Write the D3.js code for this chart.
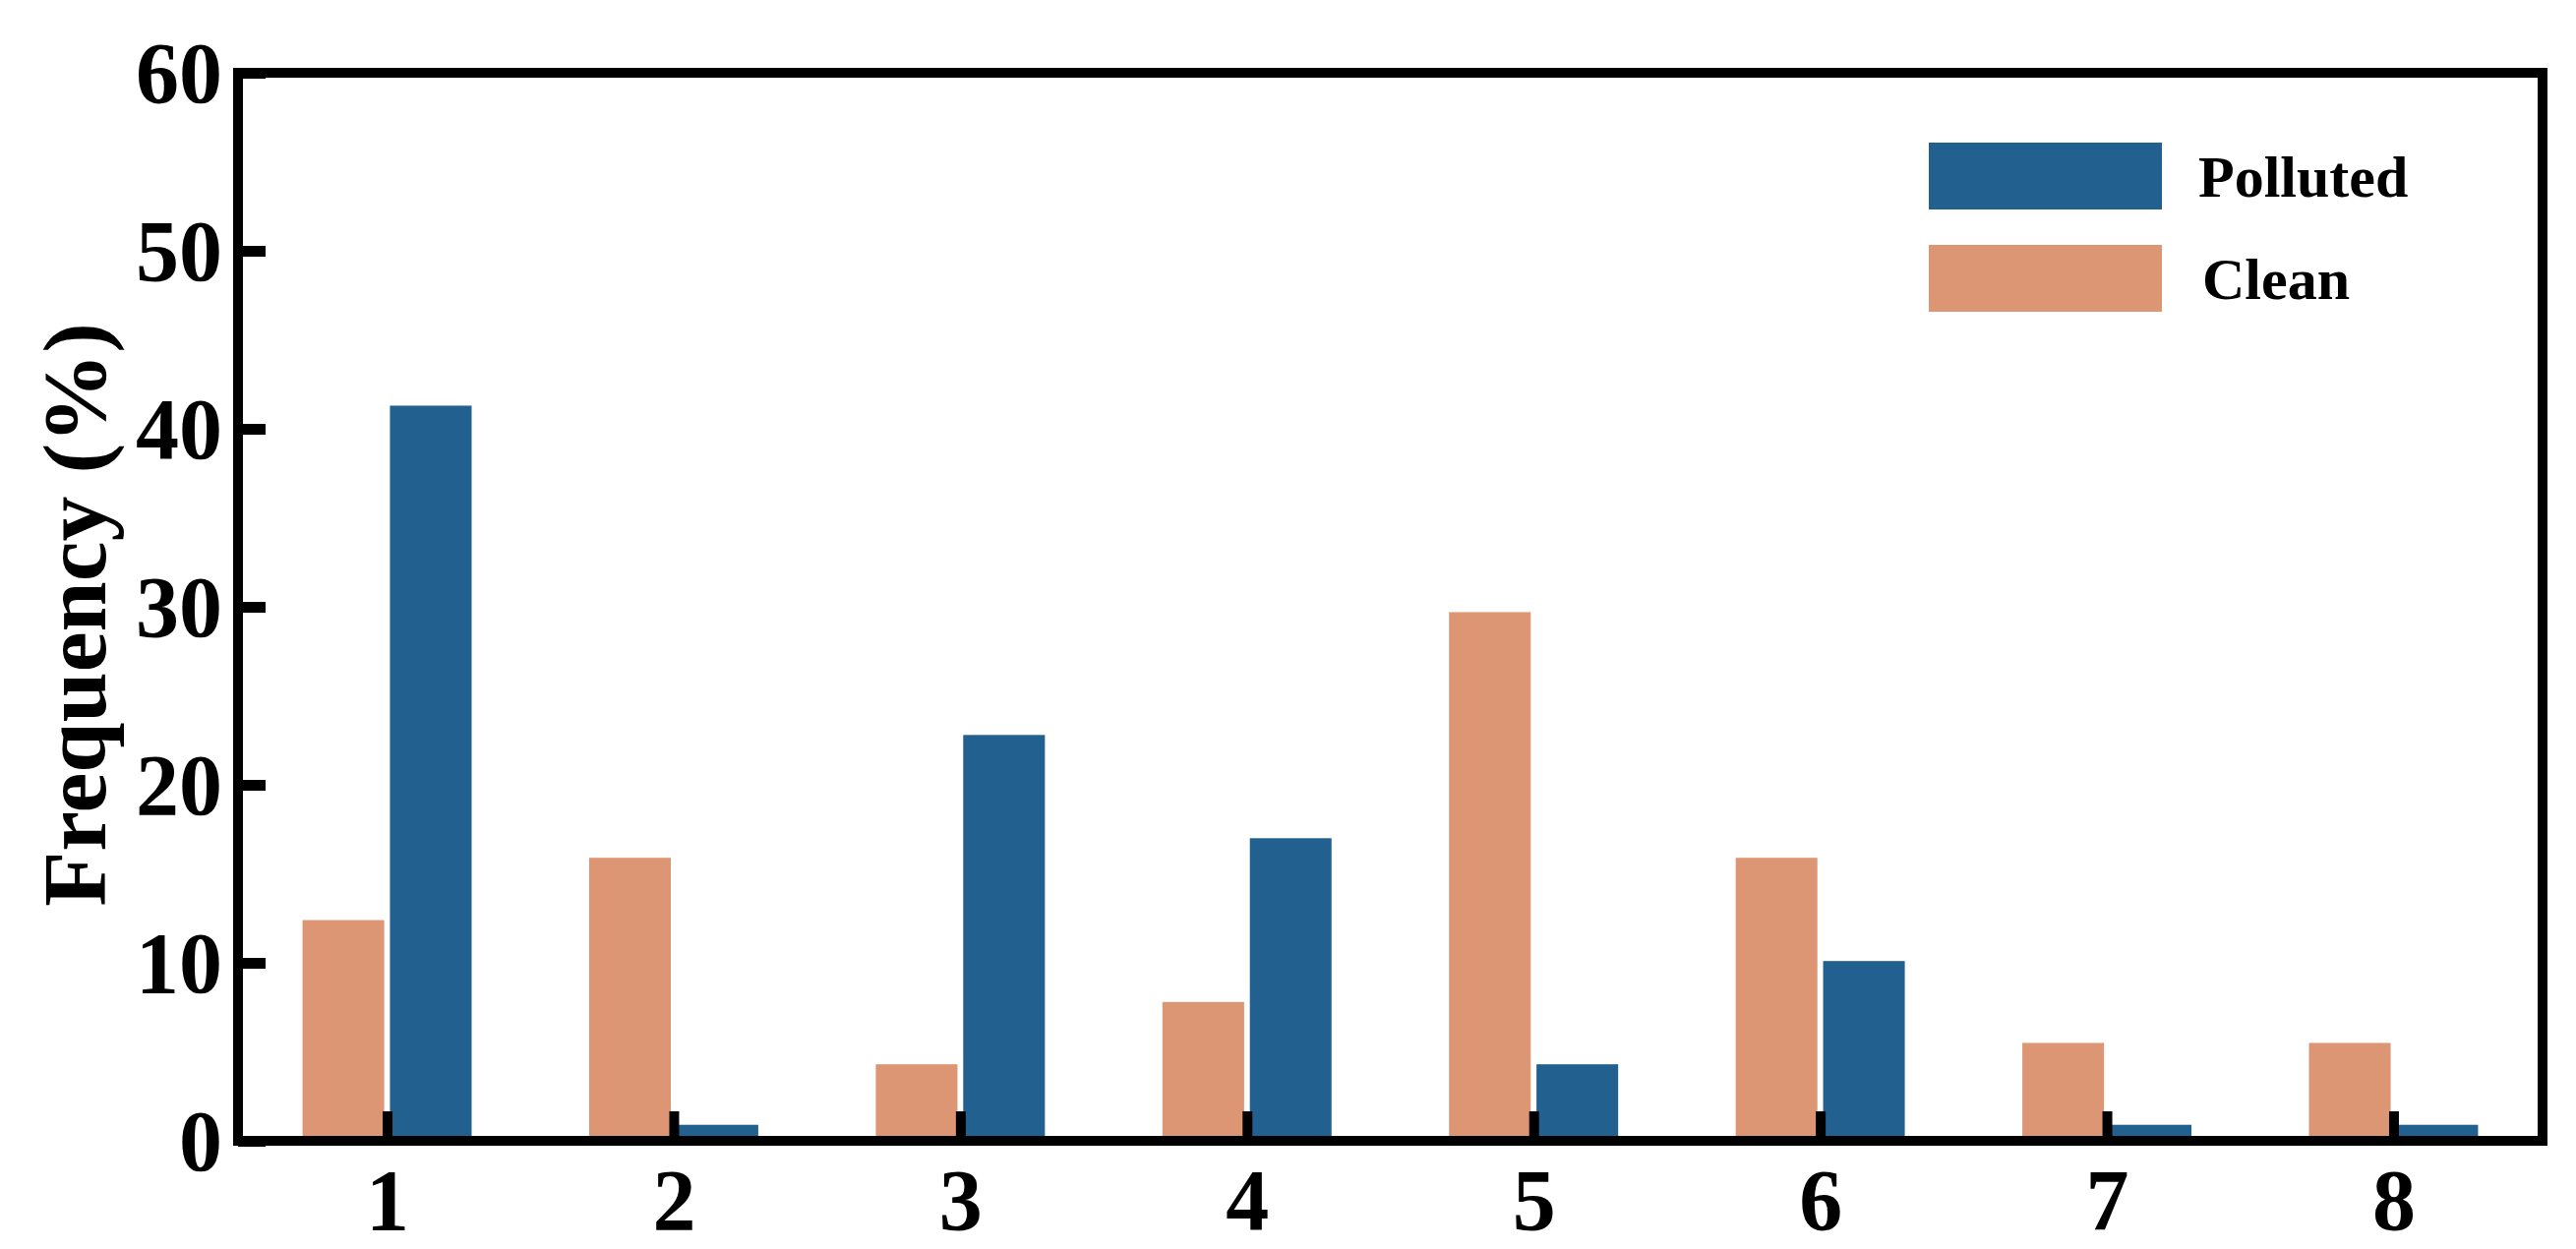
<!DOCTYPE html>
<html>
<head>
<meta charset="utf-8">
<script src="https://cdn.jsdelivr.net/npm/d3@7"></script>
<style>
  body { margin: 0; background: #fff; }
  text { font-family: "Liberation Serif", "Times New Roman", serif; font-weight: bold; }
</style>
</head>
<body>
<div id="chart"></div>
<script>
const categories = [1, 2, 3, 4, 5, 6, 7, 8];
const clean = [12.4, 15.9, 4.3, 7.8, 29.7, 15.9, 5.5, 5.5];
const polluted = [41.3, 0.9, 22.8, 17.0, 4.3, 10.1, 0.9, 0.9];
const yTicks = [0, 10, 20, 30, 40, 50, 60];
const seriesNames = ['Polluted', 'Clean'];
const colors = {Polluted: '#22618f', Clean: '#dd9674'};

let elWidth = 2619, elHeight = 1270;
let margin = {top: 74, right: 34, bottom: 110, left: 242};
let width = elWidth - margin.left - margin.right;
let height = elHeight - margin.top - margin.bottom;

let svg = d3.select('#chart').append('svg')
    .attr('width', elWidth)
    .attr('height', elHeight);
let g = svg.append('g').attr('transform', 'translate(' + margin.left + ',' + margin.top + ')');

let x = d3.scaleLinear().domain([0.48, 8.52]).range([0, width]);
let y = d3.scaleLinear().domain([0, 60]).range([height, 0]);
let barW = 0.285;

// bars
g.selectAll('.clean').data(categories).enter().append('rect')
    .attr('x', (d) => x(d - 0.01 - barW))
    .attr('y', (d, i) => y(clean[i]))
    .attr('width', x(barW) - x(0))
    .attr('height', (d, i) => y(0) - y(clean[i]))
    .attr('fill', colors.Clean);

g.selectAll('.polluted').data(categories).enter().append('rect')
    .attr('x', (d) => x(d + 0.01))
    .attr('y', (d, i) => y(polluted[i]))
    .attr('width', x(barW) - x(0))
    .attr('height', (d, i) => y(0) - y(polluted[i]))
    .attr('fill', colors.Polluted);

// axes with inward ticks
let yAxis = g.append('g')
    .call(d3.axisLeft(y).tickValues(yTicks).tickSize(-28).tickPadding(16));
yAxis.select('.domain').remove();
yAxis.selectAll('.tick line').attr('stroke', '#000').attr('stroke-width', 11);
yAxis.selectAll('.tick text')
    .attr('font-size', 88)
    .attr('dy', '0.34em')
    .attr('fill', '#000');

let xAxis = g.append('g')
    .attr('transform', 'translate(0,' + height + ')')
    .call(d3.axisBottom(x).tickValues(categories).tickSize(-30).tickPadding(28).tickFormat(d3.format('d')));
xAxis.select('.domain').remove();
xAxis.selectAll('.tick line').attr('stroke', '#000').attr('stroke-width', 10);
xAxis.selectAll('.tick text')
    .attr('font-size', 88)
    .attr('fill', '#000');

// frame
g.append('rect')
    .attr('x', 0).attr('y', 0)
    .attr('width', width).attr('height', height)
    .attr('fill', 'none')
    .attr('stroke', '#000')
    .attr('stroke-width', 10);

// y title
svg.append('text')
    .attr('transform', 'translate(' + 75 + ',' + (margin.top + height / 2 + 8) + ') rotate(-90)')
    .attr('text-anchor', 'middle')
    .attr('dy', '0.35em')
    .attr('font-size', 92)
    .text('Frequency (%)');

// legend
let legend = svg.append('g').attr('transform', 'translate(1961,145)');
seriesNames.forEach(function(name, i) {
    let row = legend.append('g').attr('transform', 'translate(0,' + (i * 104) + ')');
    row.append('rect')
        .attr('width', 237)
        .attr('height', 68)
        .attr('fill', colors[name]);
    row.append('text')
        .attr('x', 274 + (i ? 4 : 0))
        .attr('y', 34)
        .attr('dy', '0.35em')
        .attr('font-size', 60)
        .text(name);
});
</script>
</body>
</html>
